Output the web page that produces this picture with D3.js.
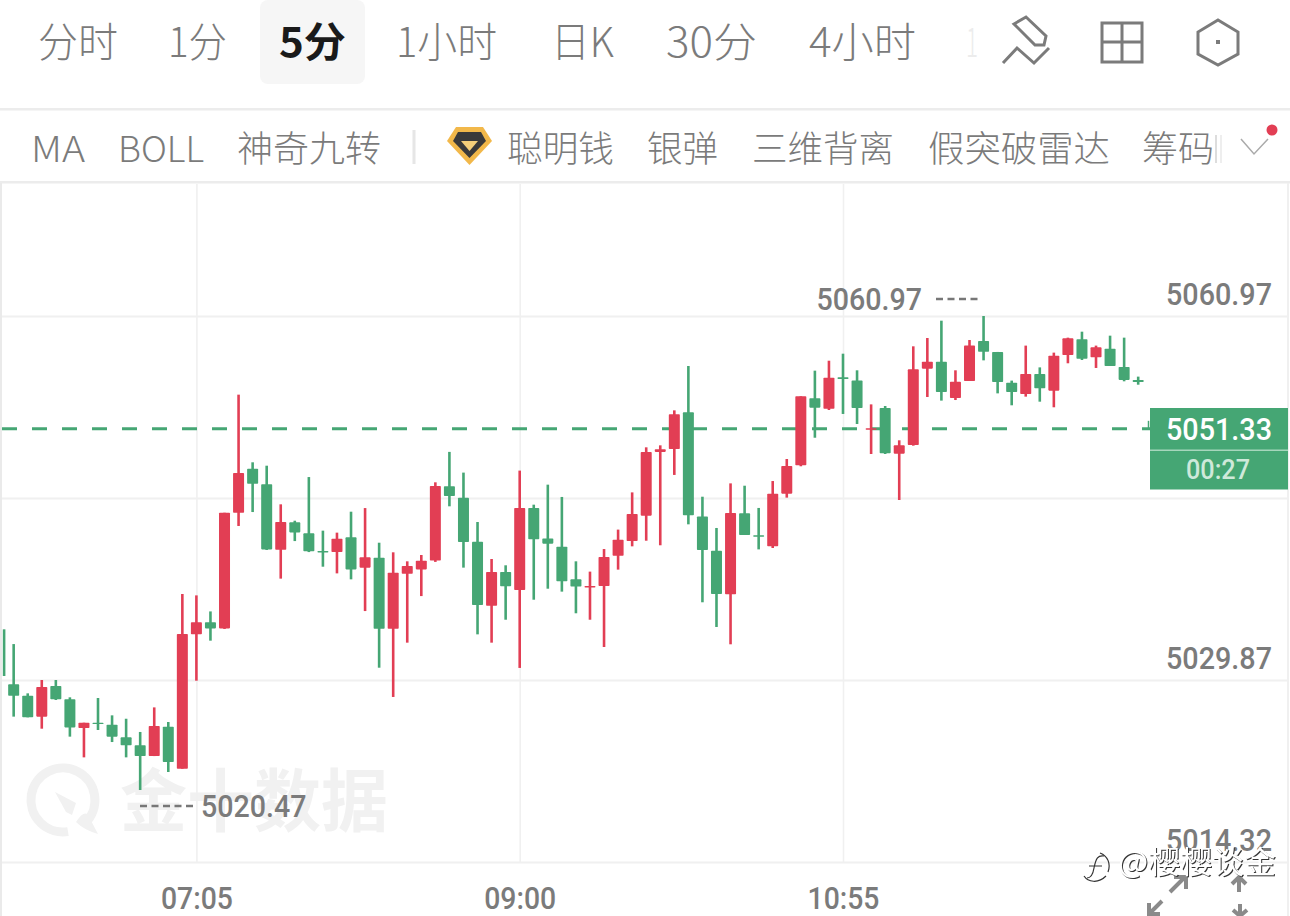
<!DOCTYPE html>
<html><head><meta charset="utf-8">
<script src="https://cdn.jsdelivr.net/npm/d3@7"></script>
<style>
html,body{margin:0;padding:0;background:#fff;overflow:hidden}
svg{display:block}
text{font-family:"Noto Sans CJK SC","Noto Sans",sans-serif}
.num{font-family:Roboto,"Noto Sans",sans-serif;font-weight:500}
</style></head><body>
<svg id="c" width="1290" height="916"></svg>
<script>
// ---- data ----
const candleIndex = d3.range(1,82);
const opens  = [5029.50,5028.53,5026.74,5029.36,5028.22,5025.77,5026.22,5026.05,5024.97,5024.29,5023.37,5025.88,5022.29,5033.77,5034.80,5034.28,5044.16,5047.92,5046.59,5041.00,5043.34,5042.40,5040.89,5040.80,5042.06,5039.47,5040.32,5034.25,5038.95,5039.32,5040.07,5046.42,5045.45,5041.69,5036.22,5039.10,5037.56,5044.57,5041.95,5041.26,5038.47,5037.82,5037.90,5040.49,5041.75,5043.91,5049.36,5049.61,5052.74,5043.85,5040.92,5037.19,5044.11,5042.23,5041.29,5045.79,5048.21,5053.94,5053.05,5055.73,5055.45,5051.31,5053.11,5049.21,5049.95,5056.47,5057.07,5053.96,5055.42,5058.84,5057.90,5055.27,5054.31,5056.02,5054.59,5057.64,5058.98,5057.44,5058.18,5056.61,5055.51];
const highs  = [5032.94,5028.73,5029.87,5029.87,5028.39,5026.22,5028.33,5026.85,5026.56,5025.43,5027.53,5026.28,5037.22,5037.10,5035.73,5044.16,5054.25,5048.47,5048.18,5044.88,5043.48,5047.21,5042.63,5042.46,5044.25,5044.56,5041.60,5040.78,5040.01,5040.55,5046.76,5049.36,5047.59,5043.37,5040.21,5039.67,5047.76,5044.85,5046.56,5045.51,5040.01,5039.13,5041.06,5042.72,5045.90,5049.75,5049.92,5052.91,5056.70,5045.53,5042.86,5046.67,5046.47,5044.57,5046.87,5048.75,5054.11,5056.30,5057.15,5057.75,5056.33,5053.42,5053.28,5050.35,5058.38,5059.09,5060.57,5056.33,5058.92,5060.97,5057.90,5055.45,5058.44,5056.58,5057.84,5059.12,5059.63,5058.44,5059.29,5059.12,5055.79];
const lows   = [5026.74,5026.68,5025.71,5028.16,5025.03,5023.26,5025.60,5024.57,5023.26,5020.47,5023.37,5022.01,5022.29,5029.81,5033.23,5034.23,5043.03,5044.22,5040.98,5038.53,5041.74,5040.80,5039.55,5038.98,5038.47,5035.76,5030.92,5028.42,5033.06,5037.04,5039.96,5044.71,5039.47,5033.77,5033.06,5035.02,5030.90,5036.73,5037.67,5037.42,5035.57,5035.02,5032.69,5039.30,5041.29,5041.77,5041.38,5047.39,5043.17,5036.51,5034.40,5032.92,5042.26,5041.03,5041.15,5045.45,5048.13,5050.57,5052.94,5052.60,5051.74,5049.18,5049.18,5045.25,5049.89,5054.05,5053.74,5053.79,5055.42,5057.18,5054.36,5053.34,5054.08,5053.65,5053.17,5056.93,5057.21,5056.53,5056.70,5055.39,5055.10];
const closes = [5028.53,5026.68,5029.27,5028.22,5025.82,5026.22,5026.11,5025.03,5024.29,5023.37,5025.94,5022.86,5033.80,5034.80,5034.28,5044.16,5047.55,5046.64,5041.03,5043.37,5042.48,5040.86,5040.80,5041.94,5039.32,5040.35,5034.25,5039.04,5039.61,5040.06,5046.45,5045.59,5041.66,5036.28,5039.10,5037.87,5044.57,5041.89,5041.52,5038.30,5037.85,5037.90,5040.38,5041.86,5044.05,5049.36,5049.58,5052.57,5043.94,5040.98,5037.22,5044.14,5042.26,5042.12,5045.79,5048.15,5054.11,5053.14,5055.70,5055.59,5053.11,5051.37,5049.24,5049.92,5056.41,5057.07,5054.48,5055.36,5058.44,5057.92,5055.33,5054.48,5056.02,5054.79,5057.58,5059.06,5057.32,5058.29,5056.70,5055.51,5055.33];
const clippedWickIndex = 0.32, clippedWickHigh = 5034.20, clippedWickLow = 5030.21;
const priceTicks = [5060.97,5045.42,5029.87,5014.32];
const priceTickLabels = ["5060.97","","5029.87","5014.32"];
const timeTickIndex = [14,37,60];
const timeTickLabels = ["07:05","09:00","10:55"];
const lastPrice = 5051.33, countdown = "00:27";
const highMark = 5060.97, lowMark = 5020.47;
const tabLabels = ["分时","1分","5分","1小时","日K","30分","4小时","1"];
const toolLabels = ["MA","BOLL","神奇九转","聪明钱","银弹","三维背离","假突破雷达","筹码"];

// ---- layout ----
const GREEN="#45a674", RED="#e23e54", GREY="#7b7b7b", LINE="#f0f0f0";
const svg=d3.select("#c");
const x=d3.scaleLinear().domain([14,60]).range([196.4,843]);
const y=d3.scaleLinear().domain([5014.32,5060.97]).range([862,316]);
const fit=(sel,w)=>sel.attr("textLength",w).attr("lengthAdjust","spacingAndGlyphs");

// header
svg.append("rect").attr("x",260).attr("y",0).attr("width",105).attr("height",84).attr("rx",8).attr("fill","#f6f6f6");
const tabX=[38,168,279,396,551,666,809,966], tabW=[80,59,67,101,63,91,107,12];
svg.selectAll("text.tab").data(tabLabels).join("text").attr("class","tab")
  .attr("x",(d,i)=>tabX[i]).attr("y",57).attr("font-size",41)
  .attr("font-weight",(d,i)=>i==2?700:300)
  .attr("textLength",(d,i)=>tabW[i]).attr("lengthAdjust","spacingAndGlyphs")
  .attr("fill",(d,i)=>i==2?"#1a1a1a":i==7?"#ececec":GREY).text(d=>d);
const toolX=[31,118,237,507,647,752,928,1142], toolW=[54,86,144,107,71,142,182,72];
svg.selectAll("text.tool").data(toolLabels).join("text").attr("class","tool")
  .attr("x",(d,i)=>toolX[i]).attr("y",162).attr("font-size",36).attr("font-weight",300)
  .attr("textLength",(d,i)=>toolW[i]).attr("lengthAdjust","spacingAndGlyphs")
  .attr("fill",GREY).text(d=>d);
svg.append("g").selectAll("rect").data([[0,108],[0,181]]).join("rect")
  .attr("x",d=>d[0]).attr("y",d=>d[1]).attr("width",1290).attr("height",2.5).attr("fill","#ececec");
svg.append("rect").attr("x",412.5).attr("y",130).attr("width",3).attr("height",34).attr("fill","#e6e6e6");
// fading glyph fragment and chevron
svg.append("rect").attr("x",1215).attr("y",135).attr("width",2).attr("height",28).attr("fill","#ddd");
svg.append("rect").attr("x",1220).attr("y",135).attr("width",2).attr("height",28).attr("fill","#eee");
svg.append("path").attr("d","M1241 139L1254 154L1268 139").attr("fill","none").attr("stroke","#aaa").attr("stroke-width",1.5);
svg.append("circle").attr("cx",1272).attr("cy",130).attr("r",5.5).attr("fill",RED);
// diamond icon
svg.append("path").attr("d","M456 127H483L492 141L469.500 165L447 141Z").attr("fill","#f2b84a");
svg.append("path").attr("d","M458 132H481L486 141L469.500 158L453 141Z").attr("fill","#3a3a3a");
svg.append("path").attr("d","M461 141H478L469.500 151Z").attr("fill","#f5cf7a");
// tool icons
const ic=svg.append("g").attr("fill","none").attr("stroke",GREY).attr("stroke-width",3);
ic.append("path").attr("d","M1014 24L1026 17L1046 36L1044 45L1035 45Z");
ic.append("path").attr("d","M1003 63L1017 48L1034 63L1049 48");
ic.append("rect").attr("x",1102).attr("y",23).attr("width",40).attr("height",39);
ic.append("path").attr("d","M1122 23V62M1102 42H1142");
ic.append("path").attr("d","M1218 20L1238 32V54L1218 65L1198 54V32Z");
svg.append("rect").attr("x",1216).attr("y",40).attr("width",4).attr("height",4).attr("fill",GREY);

// chart borders
svg.append("rect").attr("x",0).attr("y",183).attr("width",2).attr("height",733).attr("fill","#eaeaea");
svg.append("rect").attr("x",1287).attr("y",183).attr("width",2).attr("height",733).attr("fill","#f0f0f0");

// watermark
const wm=svg.append("g");
wm.append("path").attr("d","M85.600 822.600A32 32 0 1 0 68 831.600").attr("fill","none").attr("stroke","#f1f1f1").attr("stroke-width",9);
wm.append("path").attr("d","M55 792L76 803L72 815L66 812Z").attr("fill","#f1f1f1");
wm.append("path").attr("d","M76 822Q84 810 88 815L98 834Q84 830 76 822Z").attr("fill","#f1f1f1");
wm.append("text").attr("x",120).attr("y",826).attr("font-size",68).attr("font-weight",700).attr("fill","#f1f1f1").call(fit,268).text("金十数据");

// axes (gridlines come from the tick lines)
const yAxis=svg.append("g").attr("transform","translate(2,0)")
  .call(d3.axisRight(y).tickValues(priceTicks).tickSize(1285).tickFormat((d,i)=>priceTickLabels[i]));
yAxis.select(".domain").remove();
yAxis.selectAll("line").attr("stroke",LINE).attr("stroke-width",2);
yAxis.selectAll("text").attr("class","num").attr("x",1270).attr("dy",0).attr("y",-12)
  .attr("text-anchor","end").attr("font-size",31).attr("fill",GREY).call(fit,106);
const xAxis=svg.append("g").attr("transform","translate(0,862)")
  .call(d3.axisBottom(x).tickValues(timeTickIndex).tickSize(-678).tickFormat((d,i)=>timeTickLabels[i]));
xAxis.select(".domain").remove();
xAxis.selectAll("line").attr("stroke",LINE).attr("stroke-width",1.6);
xAxis.selectAll("text").attr("class","num").attr("y",47).attr("dy",0)
  .attr("font-size",31).attr("fill",GREY).call(fit,72);

// last price line
svg.append("line").attr("x1",2).attr("x2",1150).attr("y1",y(lastPrice)).attr("y2",y(lastPrice))
  .attr("stroke",GREEN).attr("stroke-width",3).attr("stroke-dasharray","15 15");
svg.append("line").attr("x1",1148.500).attr("x2",1148.500).attr("y1",y(lastPrice)-8).attr("y2",y(lastPrice))
  .attr("stroke",GREEN).attr("stroke-width",1.500);

// candles
const candles=candleIndex.map((n,i)=>({n,o:opens[i],h:highs[i],l:lows[i],c:closes[i]}));
const col=d=>d.c>=d.o?RED:GREEN;
const g=svg.append("g");
g.append("line").attr("x1",x(clippedWickIndex)).attr("x2",x(clippedWickIndex))
  .attr("y1",y(clippedWickHigh)).attr("y2",y(clippedWickLow)).attr("stroke",GREEN).attr("stroke-width",2.6);
g.selectAll("line.w").data(candles).join("line").attr("class","w")
  .attr("x1",d=>x(d.n)).attr("x2",d=>x(d.n)).attr("y1",d=>y(d.h)).attr("y2",d=>y(d.l))
  .attr("stroke",col).attr("stroke-width",2.6);
g.selectAll("rect.b").data(candles).join("rect").attr("class","b")
  .attr("x",d=>x(d.n)-5.5).attr("width",11)
  .attr("y",d=>y(Math.max(d.o,d.c)))
  .attr("height",d=>Math.max(1.4,Math.abs(y(d.o)-y(d.c))))
  .attr("rx",0.8).attr("fill",col);

// extreme annotations
const note=(val,tx,anchor,x1,x2,dy)=>{
  svg.append("line").attr("x1",x1).attr("x2",x2).attr("y1",y(val)+dy).attr("y2",y(val)+dy)
    .attr("stroke","#777").attr("stroke-width",2.6).attr("stroke-dasharray","7 4.500");
  svg.append("text").attr("class","num").attr("x",tx).attr("y",y(val)+dy+11).attr("text-anchor",anchor)
    .attr("font-size",31).attr("fill",GREY).call(fit,105.500).text(d3.format(".2f")(val));
};
note(highMark,922,"end",936,980,-17);
note(lowMark,201,"start",140,196,16);

// price tag
svg.append("rect").attr("x",1150).attr("y",408).attr("width",138).attr("height",81.500).attr("fill",GREEN);
svg.append("rect").attr("x",1150).attr("y",449.500).attr("width",138).attr("height",1.500).attr("fill","#a6d6bc");
svg.append("text").attr("class","num").attr("x",1219).attr("y",440).attr("text-anchor","middle")
  .attr("font-size",31).attr("fill","#fff").call(fit,106).text(d3.format(".2f")(lastPrice));
svg.append("text").attr("class","num").attr("x",1218).attr("y",479).attr("text-anchor","middle")
  .attr("font-size",27).attr("font-weight",400).attr("fill","#cfe9da").call(fit,64).text(countdown);

// corner arrows
const ar=svg.append("g").attr("stroke","#8a8a8a").attr("stroke-width",4).attr("fill","none");
ar.append("path").attr("d","M1170 892L1185 877M1174 877H1186V889M1162 901L1149 914M1149 903V914H1160");
ar.append("path").attr("d","M1239 892V877M1232 884L1239 877L1246 884M1240 904V916M1233 910L1240 916L1247 910");

// repost mark
const rp=svg.append("g").style("filter","drop-shadow(1px 1px 0 #333)");
rp.append("text").attr("x",1118).attr("y",873).attr("font-size",31).attr("fill","#fff").call(fit,158).text("@樱樱谈金");
const rpi=svg.append("g").attr("fill","none").attr("stroke","#333").attr("stroke-width",1.200);
rpi.append("path").attr("d","M1100 853C1108 856 1111 864 1108 872");
rpi.append("path").attr("d","M1084 876C1088 882 1098 884 1106 876");
rpi.append("path").attr("d","M1104 856C1098 855 1096 858 1094 868C1093 874 1091 878 1087 878M1089 866H1102");
</script>
</body></html>
